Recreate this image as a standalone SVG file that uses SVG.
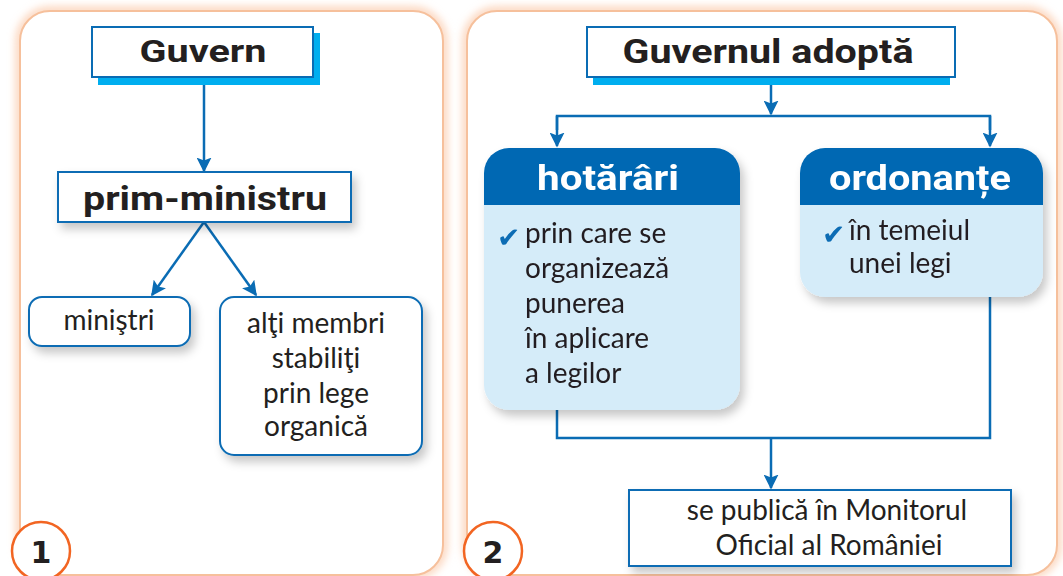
<svg xmlns="http://www.w3.org/2000/svg" width="1063" height="576" viewBox="0 0 1063 576">
<defs>
<filter id="glow" x="-10%" y="-10%" width="120%" height="120%"><feGaussianBlur stdDeviation="4"/></filter>
<filter id="sh" x="-20%" y="-20%" width="150%" height="160%"><feDropShadow dx="4" dy="6" stdDeviation="5" flood-color="#000" flood-opacity="0.22"/></filter>
<marker id="ah" viewBox="0 0 10 10" refX="9" refY="5" markerWidth="6" markerHeight="6" orient="auto" markerUnits="strokeWidth"><path d="M0,0 L10,5 L0,10 L2,5 z" fill="#0a6cb4"/></marker>
<style>
.panel{fill:#fff;stroke:#f6c09c;stroke-width:2}
.halo{fill:none;stroke:#fbcfb2;stroke-width:8}
.conn{fill:none;stroke:#0a6cb4;stroke-width:2.5}
.box{fill:#fff;stroke:#0a6cb4;stroke-width:2}
.cyan{fill:#00aeef}
.h{font-family:Roboto,"Liberation Sans",sans-serif;font-weight:bold;fill:#231f20;text-anchor:middle}
.hw{font-family:Roboto,"Liberation Sans",sans-serif;font-weight:bold;fill:#fff;text-anchor:middle}
.t{font-family:Lato,"Open Sans",sans-serif;font-size:28px;fill:#231f20}
.c{text-anchor:middle}
.num{font-family:"DejaVu Sans",sans-serif;font-weight:bold;font-size:30px;fill:#231f20;text-anchor:middle}
.circ{fill:#fff;stroke:#f26522;stroke-width:2.5}
.chk{font-family:"DejaVu Sans",sans-serif;font-size:28px;fill:#0a6cb4;font-style:italic}
.hdr{fill:#0068b3}
.bdy{fill:#d5ecf9}
</style>
</defs>

<g id="panels">
<rect class="halo" x="20" y="11" width="423" height="564" rx="30" filter="url(#glow)"/>
<rect class="panel" x="20" y="11" width="423" height="564" rx="30"/>
<rect class="halo" x="467" y="11" width="590" height="564" rx="30" filter="url(#glow)"/>
<rect class="panel" x="467" y="11" width="590" height="564" rx="30"/>
</g>

<g id="connectors">
<line class="conn" x1="204" y1="78" x2="204" y2="171" marker-end="url(#ah)"/>
<line class="conn" x1="204" y1="222" x2="152" y2="295" marker-end="url(#ah)"/>
<line class="conn" x1="204" y1="222" x2="256" y2="295" marker-end="url(#ah)"/>
<line class="conn" x1="771" y1="77" x2="771" y2="114" marker-end="url(#ah)"/>
<polyline class="conn" points="557,130 557,116 990,116 990,130"/>
<line class="conn" x1="557" y1="116" x2="557" y2="146" marker-end="url(#ah)"/>
<line class="conn" x1="990" y1="116" x2="990" y2="146" marker-end="url(#ah)"/>
<polyline class="conn" points="557,410 557,438 990,438 990,291"/>
<line class="conn" x1="771" y1="438" x2="771" y2="488" marker-end="url(#ah)"/>
</g>

<g id="guvern">
<rect class="cyan" x="98" y="33" width="222" height="52"/>
<rect class="box" x="92" y="27" width="221" height="50"/>
<text class="h" x="203" y="62" font-size="31" textLength="127" lengthAdjust="spacingAndGlyphs">Guvern</text>
</g>

<g id="prim-ministru">
<rect class="box" x="58" y="172" width="293" height="50" filter="url(#sh)"/>
<text class="h" x="205" y="210" font-size="33" textLength="244" lengthAdjust="spacingAndGlyphs">prim-ministru</text>
</g>

<g id="ministri">
<rect class="box" x="29" y="297" width="161" height="49" rx="13" filter="url(#sh)"/>
<text class="t c" x="109" y="330">miniştri</text>
</g>

<g id="alti-membri">
<rect class="box" x="220" y="297" width="202" height="158" rx="14" filter="url(#sh)"/>
<text class="t c" x="316" y="333">alţi membri</text>
<text class="t c" x="316" y="368">stabiliţi</text>
<text class="t c" x="316" y="403">prin lege</text>
<text class="t c" x="316" y="436">organică</text>
</g>

<g id="badge1">
<circle class="circ" cx="41" cy="551" r="29"/>
<text class="num" x="41" y="563">1</text>
</g>

<g id="guvernul-adopta">
<rect class="cyan" x="593" y="33" width="357" height="52"/>
<rect class="box" x="587" y="27" width="368" height="50"/>
<text class="h" x="768" y="63" font-size="33" textLength="291" lengthAdjust="spacingAndGlyphs">Guvernul adoptă</text>
</g>

<g id="hotarari" filter="url(#sh)">
<path class="bdy" d="M484,205 H740 V385 a25,25 0 0 1 -25,25 H509 a25,25 0 0 1 -25,-25 Z"/>
<path class="hdr" d="M484,205 V173 a25,25 0 0 1 25,-25 H715 a25,25 0 0 1 25,25 V205 Z"/>
<text class="hw" x="608" y="190" font-size="35" textLength="142" lengthAdjust="spacingAndGlyphs">hotărâri</text>
<text class="chk" x="497" y="247">✔</text>
<text class="t" x="525" y="243">prin care se</text>
<text class="t" x="525" y="278">organizează</text>
<text class="t" x="525" y="313">punerea</text>
<text class="t" x="525" y="348">în aplicare</text>
<text class="t" x="525" y="383">a legilor</text>
</g>

<g id="ordonante" filter="url(#sh)">
<path class="bdy" d="M800,205 H1043 V272 a25,25 0 0 1 -25,25 H825 a25,25 0 0 1 -25,-25 Z"/>
<path class="hdr" d="M800,205 V173 a25,25 0 0 1 25,-25 H1018 a25,25 0 0 1 25,25 V205 Z"/>
<text class="hw" x="920" y="190" font-size="35" textLength="182" lengthAdjust="spacingAndGlyphs">ordonanțe</text>
<text class="chk" x="822" y="244">✔</text>
<text class="t" x="849" y="240">în temeiul</text>
<text class="t" x="849" y="273">unei legi</text>
</g>

<g id="monitorul">
<rect class="box" x="629" y="490" width="382" height="76" filter="url(#sh)"/>
<text class="t c" x="827" y="520">se publică în Monitorul</text>
<text class="t c" x="829" y="555">Oficial al României</text>
</g>

<g id="badge2">
<circle class="circ" cx="493" cy="551" r="29"/>
<text class="num" x="493" y="563">2</text>
</g>
</svg>
